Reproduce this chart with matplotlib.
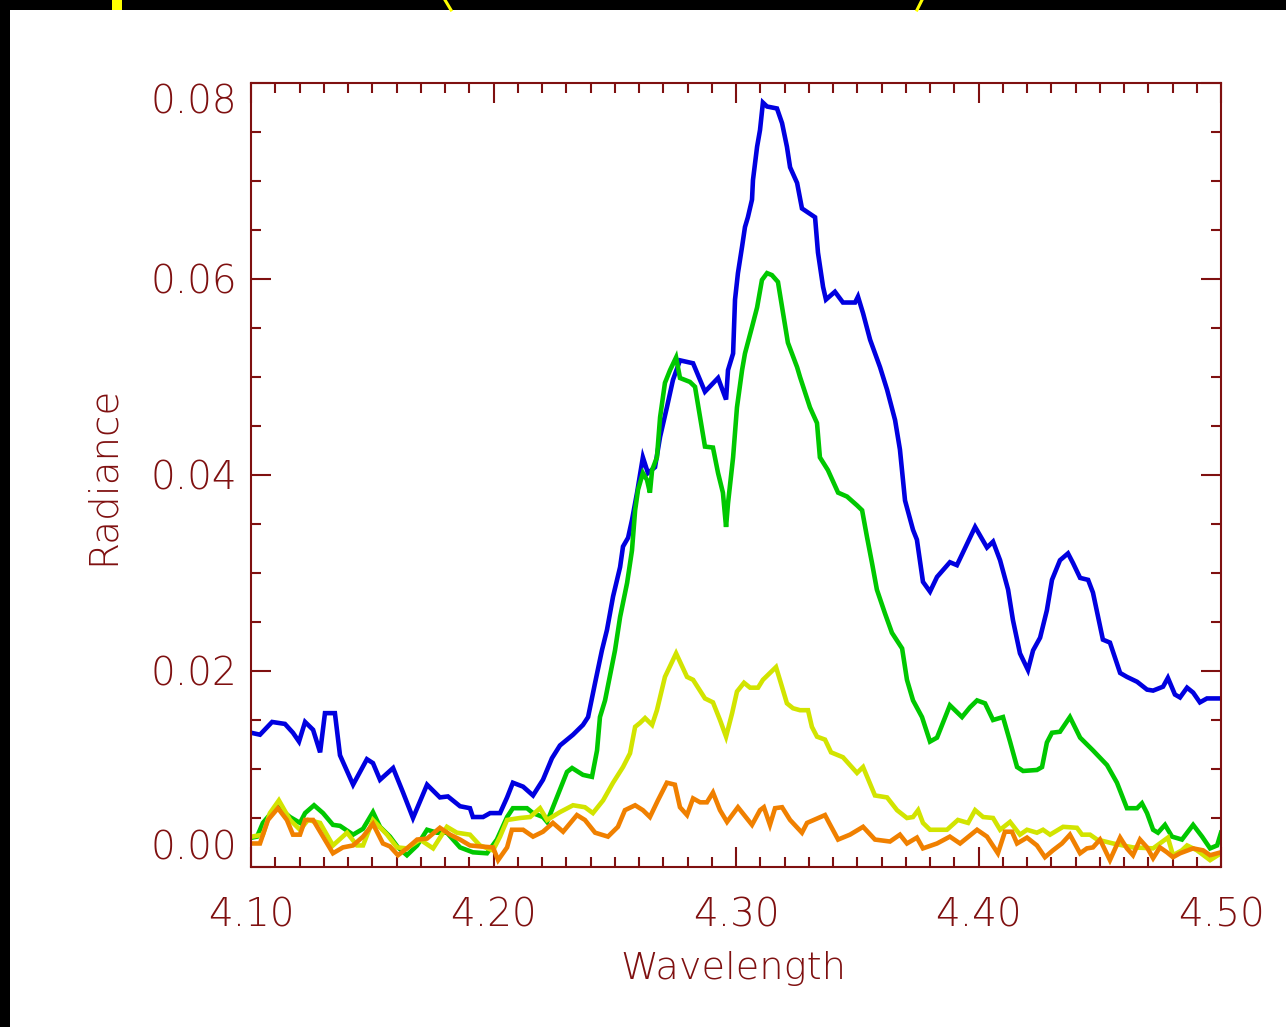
import numpy as np
import matplotlib
matplotlib.use("Agg")
import matplotlib.pyplot as plt
from matplotlib.ticker import MultipleLocator
from matplotlib.patches import Rectangle
from matplotlib.lines import Line2D

# spectra: (wavelength, radiance) vertices for each curve
blue_wl = [4.1000, 4.1037, 4.1087, 4.1140, 4.1173, 4.1198, 4.1223, 4.1256, 4.1285, 4.1305,
           4.1346, 4.1367, 4.1421, 4.1478, 4.1503, 4.1532, 4.1586, 4.1627, 4.1668, 4.1726,
           4.1779, 4.1812, 4.1862, 4.1903, 4.1915, 4.1957, 4.1986, 4.2027, 4.2056, 4.2080,
           4.2122, 4.2163, 4.2204, 4.2241, 4.2274, 4.2328, 4.2369, 4.2390, 4.2419, 4.2447,
           4.2468, 4.2493, 4.2522, 4.2534, 4.2555, 4.2571, 4.2592, 4.2616, 4.2637, 4.2666,
           4.2687, 4.2715, 4.2740, 4.2769, 4.2823, 4.2872, 4.2926, 4.2959, 4.2967, 4.2988,
           4.2996, 4.3008, 4.3025, 4.3037, 4.3049, 4.3066, 4.3070, 4.3087, 4.3099, 4.3111,
           4.3128, 4.3169, 4.3190, 4.3210, 4.3223, 4.3252, 4.3272, 4.3326, 4.3338, 4.3359,
           4.3371, 4.3408, 4.3441, 4.3491, 4.3503, 4.3524, 4.3553, 4.3594, 4.3623, 4.3656,
           4.3676, 4.3697, 4.3730, 4.3746, 4.3771, 4.3800, 4.3829, 4.3882, 4.3911, 4.3936,
           4.3986, 4.4035, 4.4060, 4.4089, 4.4122, 4.4142, 4.4171, 4.4204, 4.4225, 4.4254,
           4.4282, 4.4303, 4.4336, 4.4369, 4.4390, 4.4419, 4.4452, 4.4472, 4.4513, 4.4542,
           4.4584, 4.4612, 4.4654, 4.4695, 4.4720, 4.4761, 4.4781, 4.4810, 4.4831, 4.4860,
           4.4885, 4.4913, 4.4942, 4.5000]
blue_rad = [0.0137, 0.0135, 0.0148, 0.0146, 0.0137, 0.0128, 0.0148, 0.0140, 0.0117, 0.0157,
            0.0157, 0.0114, 0.0084, 0.0110, 0.0106, 0.0089, 0.0101, 0.0076, 0.0050, 0.0084,
            0.0071, 0.0072, 0.0062, 0.0060, 0.0051, 0.0051, 0.0055, 0.0055, 0.0071, 0.0086,
            0.0082, 0.0073, 0.0089, 0.0111, 0.0124, 0.0135, 0.0145, 0.0153, 0.0188, 0.0221,
            0.0242, 0.0276, 0.0306, 0.0327, 0.0336, 0.0354, 0.0382, 0.0418, 0.0402, 0.0408,
            0.0439, 0.0469, 0.0497, 0.0517, 0.0514, 0.0485, 0.0499, 0.0477, 0.0507, 0.0524,
            0.0579, 0.0606, 0.0633, 0.0653, 0.0663, 0.0681, 0.0701, 0.0735, 0.0752, 0.0780,
            0.0776, 0.0774, 0.0759, 0.0735, 0.0714, 0.0698, 0.0672, 0.0663, 0.0627, 0.0592,
            0.0579, 0.0587, 0.0576, 0.0576, 0.0582, 0.0565, 0.0538, 0.0510, 0.0487, 0.0456,
            0.0426, 0.0374, 0.0344, 0.0334, 0.0291, 0.0281, 0.0296, 0.0311, 0.0308, 0.0321,
            0.0347, 0.0326, 0.0332, 0.0313, 0.0283, 0.0252, 0.0218, 0.0201, 0.0221, 0.0234,
            0.0262, 0.0293, 0.0313, 0.0320, 0.0310, 0.0295, 0.0293, 0.0280, 0.0232, 0.0229,
            0.0198, 0.0194, 0.0189, 0.0181, 0.0180, 0.0184, 0.0193, 0.0176, 0.0173, 0.0183,
            0.0178, 0.0168, 0.0172, 0.0172]

green_wl = [4.1004, 4.1025, 4.1049, 4.1107, 4.1161, 4.1202, 4.1223, 4.1260, 4.1297, 4.1338,
            4.1367, 4.1421, 4.1462, 4.1503, 4.1532, 4.1573, 4.1606, 4.1643, 4.1685, 4.1726,
            4.1767, 4.1808, 4.1862, 4.1915, 4.1973, 4.2014, 4.2056, 4.2080, 4.2138, 4.2163,
            4.2204, 4.2221, 4.2245, 4.2274, 4.2303, 4.2324, 4.2369, 4.2406, 4.2427, 4.2439,
            4.2460, 4.2501, 4.2522, 4.2551, 4.2571, 4.2584, 4.2596, 4.2616, 4.2633, 4.2645,
            4.2654, 4.2674, 4.2687, 4.2707, 4.2728, 4.2753, 4.2769, 4.2810, 4.2831, 4.2852,
            4.2872, 4.2905, 4.2926, 4.2946, 4.2959, 4.2967, 4.2988, 4.3004, 4.3025, 4.3037,
            4.3066, 4.3087, 4.3107, 4.3128, 4.3148, 4.3173, 4.3190, 4.3214, 4.3252, 4.3264,
            4.3305, 4.3334, 4.3346, 4.3379, 4.3421, 4.3458, 4.3499, 4.3520, 4.3540, 4.3561,
            4.3581, 4.3614, 4.3643, 4.3685, 4.3705, 4.3730, 4.3767, 4.3800, 4.3829, 4.3882,
            4.3932, 4.3965, 4.3994, 4.4027, 4.4060, 4.4101, 4.4130, 4.4159, 4.4184, 4.4241,
            4.4262, 4.4282, 4.4303, 4.4336, 4.4377, 4.4419, 4.4472, 4.4530, 4.4571, 4.4612,
            4.4654, 4.4674, 4.4695, 4.4720, 4.4740, 4.4769, 4.4798, 4.4839, 4.4885, 4.4922,
            4.4955, 4.4984, 4.5000]
green_rad = [0.0030, 0.0031, 0.0045, 0.0062, 0.0051, 0.0045, 0.0055, 0.0063, 0.0055, 0.0043,
             0.0042, 0.0033, 0.0039, 0.0056, 0.0041, 0.0031, 0.0020, 0.0012, 0.0022, 0.0038,
             0.0035, 0.0035, 0.0020, 0.0015, 0.0014, 0.0028, 0.0051, 0.0060, 0.0060, 0.0055,
             0.0051, 0.0046, 0.0061, 0.0079, 0.0097, 0.0101, 0.0094, 0.0092, 0.0119, 0.0153,
             0.0170, 0.0221, 0.0255, 0.0290, 0.0323, 0.0364, 0.0385, 0.0402, 0.0395, 0.0382,
             0.0405, 0.0418, 0.0459, 0.0494, 0.0507, 0.0520, 0.0499, 0.0495, 0.0490, 0.0459,
             0.0429, 0.0428, 0.0402, 0.0382, 0.0347, 0.0371, 0.0418, 0.0469, 0.0507, 0.0524,
             0.0551, 0.0571, 0.0599, 0.0606, 0.0604, 0.0597, 0.0571, 0.0535, 0.0510, 0.0500,
             0.0469, 0.0453, 0.0418, 0.0405, 0.0382, 0.0378, 0.0369, 0.0364, 0.0337, 0.0310,
             0.0283, 0.0259, 0.0239, 0.0223, 0.0191, 0.0170, 0.0153, 0.0128, 0.0132, 0.0165,
             0.0153, 0.0163, 0.0170, 0.0167, 0.0150, 0.0153, 0.0128, 0.0102, 0.0098, 0.0099,
             0.0102, 0.0127, 0.0137, 0.0138, 0.0153, 0.0132, 0.0119, 0.0104, 0.0086, 0.0060,
             0.0060, 0.0065, 0.0055, 0.0038, 0.0035, 0.0043, 0.0031, 0.0028, 0.0043, 0.0031,
             0.0019, 0.0022, 0.0035]

yellow_wl = [4.1004, 4.1049, 4.1078, 4.1115, 4.1161, 4.1202, 4.1235, 4.1285, 4.1338, 4.1396,
             4.1437, 4.1462, 4.1503, 4.1561, 4.1602, 4.1643, 4.1697, 4.1751, 4.1808, 4.1849,
             4.1903, 4.1944, 4.1998, 4.2027, 4.2056, 4.2109, 4.2151, 4.2192, 4.2221, 4.2274,
             4.2328, 4.2377, 4.2410, 4.2452, 4.2493, 4.2534, 4.2563, 4.2584, 4.2604, 4.2625,
             4.2654, 4.2674, 4.2707, 4.2753, 4.2798, 4.2823, 4.2872, 4.2905, 4.2934, 4.2959,
             4.2984, 4.3004, 4.3033, 4.3058, 4.3091, 4.3111, 4.3165, 4.3181, 4.3210, 4.3235,
             4.3264, 4.3297, 4.3313, 4.3334, 4.3367, 4.3392, 4.3441, 4.3499, 4.3524, 4.3573,
             4.3623, 4.3664, 4.3705, 4.3730, 4.3751, 4.3771, 4.3800, 4.3870, 4.3915, 4.3957,
             4.3986, 4.4019, 4.4060, 4.4089, 4.4130, 4.4171, 4.4200, 4.4241, 4.4266, 4.4295,
             4.4349, 4.4406, 4.4427, 4.4460, 4.4489, 4.4555, 4.4637, 4.4720, 4.4781, 4.4802,
             4.4839, 4.4860, 4.4901, 4.4955, 4.5000]
yellow_rad = [0.0031, 0.0033, 0.0055, 0.0068, 0.0048, 0.0038, 0.0048, 0.0045, 0.0022, 0.0035,
              0.0022, 0.0022, 0.0048, 0.0033, 0.0020, 0.0019, 0.0028, 0.0019, 0.0041, 0.0035,
              0.0033, 0.0022, 0.0017, 0.0031, 0.0048, 0.0050, 0.0051, 0.0060, 0.0048, 0.0056,
              0.0063, 0.0061, 0.0055, 0.0068, 0.0086, 0.0102, 0.0116, 0.0143, 0.0147, 0.0152,
              0.0145, 0.0160, 0.0194, 0.0218, 0.0194, 0.0191, 0.0172, 0.0168, 0.0150, 0.0133,
              0.0157, 0.0179, 0.0188, 0.0183, 0.0183, 0.0191, 0.0204, 0.0191, 0.0167, 0.0162,
              0.0160, 0.0160, 0.0143, 0.0133, 0.0130, 0.0117, 0.0112, 0.0096, 0.0102, 0.0073,
              0.0071, 0.0058, 0.0050, 0.0051, 0.0058, 0.0045, 0.0038, 0.0038, 0.0048, 0.0045,
              0.0058, 0.0051, 0.0050, 0.0038, 0.0046, 0.0033, 0.0038, 0.0035, 0.0038, 0.0033,
              0.0041, 0.0040, 0.0033, 0.0033, 0.0028, 0.0024, 0.0020, 0.0019, 0.0030, 0.0012,
              0.0017, 0.0022, 0.0017, 0.0007, 0.0014]

orange_wl = [4.1004, 4.1037, 4.1070, 4.1111, 4.1148, 4.1173, 4.1202, 4.1223, 4.1256, 4.1297,
             4.1338, 4.1379, 4.1421, 4.1462, 4.1503, 4.1544, 4.1573, 4.1606, 4.1643, 4.1685,
             4.1726, 4.1779, 4.1821, 4.1862, 4.1903, 4.1944, 4.1998, 4.2019, 4.2056, 4.2076,
             4.2122, 4.2163, 4.2204, 4.2245, 4.2287, 4.2344, 4.2377, 4.2419, 4.2472, 4.2513,
             4.2542, 4.2584, 4.2616, 4.2645, 4.2678, 4.2715, 4.2748, 4.2769, 4.2798, 4.2823,
             4.2852, 4.2880, 4.2905, 4.2934, 4.2963, 4.3008, 4.3066, 4.3099, 4.3115, 4.3140,
             4.3161, 4.3190, 4.3223, 4.3272, 4.3293, 4.3367, 4.3384, 4.3421, 4.3470, 4.3524,
             4.3573, 4.3635, 4.3676, 4.3705, 4.3746, 4.3771, 4.3829, 4.3882, 4.3924, 4.3994,
             4.4035, 4.4080, 4.4109, 4.4138, 4.4159, 4.4200, 4.4241, 4.4274, 4.4307, 4.4344,
             4.4377, 4.4419, 4.4447, 4.4472, 4.4501, 4.4542, 4.4584, 4.4612, 4.4637, 4.4666,
             4.4695, 4.4720, 4.4748, 4.4777, 4.4802, 4.4831, 4.4885, 4.4926, 4.4955, 4.5000]
orange_rad = [0.0024, 0.0024, 0.0048, 0.0060, 0.0048, 0.0033, 0.0033, 0.0048, 0.0048, 0.0031,
              0.0014, 0.0020, 0.0022, 0.0031, 0.0044, 0.0024, 0.0021, 0.0012, 0.0019, 0.0028,
              0.0029, 0.0040, 0.0033, 0.0028, 0.0022, 0.0021, 0.0020, 0.0007, 0.0020, 0.0038,
              0.0038, 0.0031, 0.0036, 0.0045, 0.0036, 0.0053, 0.0048, 0.0035, 0.0031, 0.0041,
              0.0058, 0.0063, 0.0058, 0.0051, 0.0068, 0.0086, 0.0084, 0.0061, 0.0053, 0.0070,
              0.0066, 0.0066, 0.0076, 0.0058, 0.0046, 0.0061, 0.0043, 0.0058, 0.0061, 0.0043,
              0.0060, 0.0061, 0.0048, 0.0035, 0.0045, 0.0053, 0.0045, 0.0028, 0.0033, 0.0041,
              0.0028, 0.0026, 0.0033, 0.0024, 0.0030, 0.0019, 0.0024, 0.0031, 0.0024, 0.0038,
              0.0031, 0.0014, 0.0036, 0.0036, 0.0024, 0.0030, 0.0022, 0.0010, 0.0017, 0.0024,
              0.0033, 0.0014, 0.0019, 0.0020, 0.0028, 0.0007, 0.0030, 0.0019, 0.0012, 0.0028,
              0.0020, 0.0009, 0.0020, 0.0015, 0.0010, 0.0014, 0.0019, 0.0017, 0.0012, 0.0015]

x_ticks = [4.10, 4.20, 4.30, 4.40, 4.50]
x_ticklabels = ["4.10", "4.20", "4.30", "4.40", "4.50"]
y_ticks = [0.00, 0.02, 0.04, 0.06, 0.08]
y_ticklabels = ["0.00", "0.02", "0.04", "0.06", "0.08"]

axis_color = "#7f1010"
W, H = 1286, 1027

plt.rcParams["font.family"] = ["DejaVu Sans"]
plt.rcParams["font.weight"] = "light"
plt.rcParams["axes.labelweight"] = "light"

fig = plt.figure(figsize=(W / 100, H / 100), dpi=100)
fig.patch.set_facecolor("black")

# white page with a thin black margin on the top and left
fig.add_artist(Rectangle((10 / W, 0), 1 - 10 / W, 1 - 10 / H, transform=fig.transFigure,
                         facecolor="white", edgecolor="none", zorder=0))

# what is left of a yellow title above the page
fig.add_artist(Rectangle((112 / W, 1 - 10 / H), 10 / W, 10 / H, transform=fig.transFigure,
                         facecolor="yellow", edgecolor="none"))
fig.add_artist(Line2D([445 / W, 451 / W], [1, 1 - 10 / H], transform=fig.transFigure,
                      color="yellow", lw=2.2))
fig.add_artist(Line2D([922 / W, 917 / W], [1, 1 - 10 / H], transform=fig.transFigure,
                      color="yellow", lw=2.2))

ax = fig.add_axes([251 / W, 1 - 867 / H, 970 / W, 784 / H])
ax.set_facecolor("white")

ax.plot(blue_wl, blue_rad, color="#0000e0", lw=3.3, solid_joinstyle="miter")
ax.plot(green_wl, green_rad, color="#00c800", lw=3.3, solid_joinstyle="miter")
ax.plot(yellow_wl, yellow_rad, color="#d2e400", lw=3.3, solid_joinstyle="miter")
ax.plot(orange_wl, orange_rad, color="#f08000", lw=3.3, solid_joinstyle="miter")

ax.set_xlim(4.10, 4.50)
ax.set_ylim(0.0, 0.08)

ax.set_xticks(x_ticks, x_ticklabels)
ax.set_yticks(y_ticks, y_ticklabels)
ax.xaxis.set_minor_locator(MultipleLocator(0.01))
ax.yaxis.set_minor_locator(MultipleLocator(0.005))

ax.tick_params(which="both", direction="in", top=True, right=True,
               color=axis_color, width=1.5, labelcolor=axis_color, labelsize=28)
ax.tick_params(which="major", length=14.5)
ax.tick_params(which="minor", length=7.5)
ax.tick_params(axis="x", which="major", pad=21)
ax.tick_params(axis="y", which="major", pad=10)

# end labels sit inside the axis range
ylabels = ax.get_yticklabels()
ylabels[0].set_verticalalignment("bottom")
ylabels[-1].set_verticalalignment("top")

for side in ax.spines.values():
    side.set_color(axis_color)
    side.set_linewidth(1.5)

ax.set_xlabel("Wavelength", color=axis_color, fontsize=27.5, va="center")
ax.set_ylabel("Radiance", color=axis_color, fontsize=28, va="center")
ax.xaxis.set_label_coords(0.497, -0.130)
ax.yaxis.set_label_coords(-0.153, 0.5)

fig.savefig("out.png", dpi=100, facecolor=fig.get_facecolor())
